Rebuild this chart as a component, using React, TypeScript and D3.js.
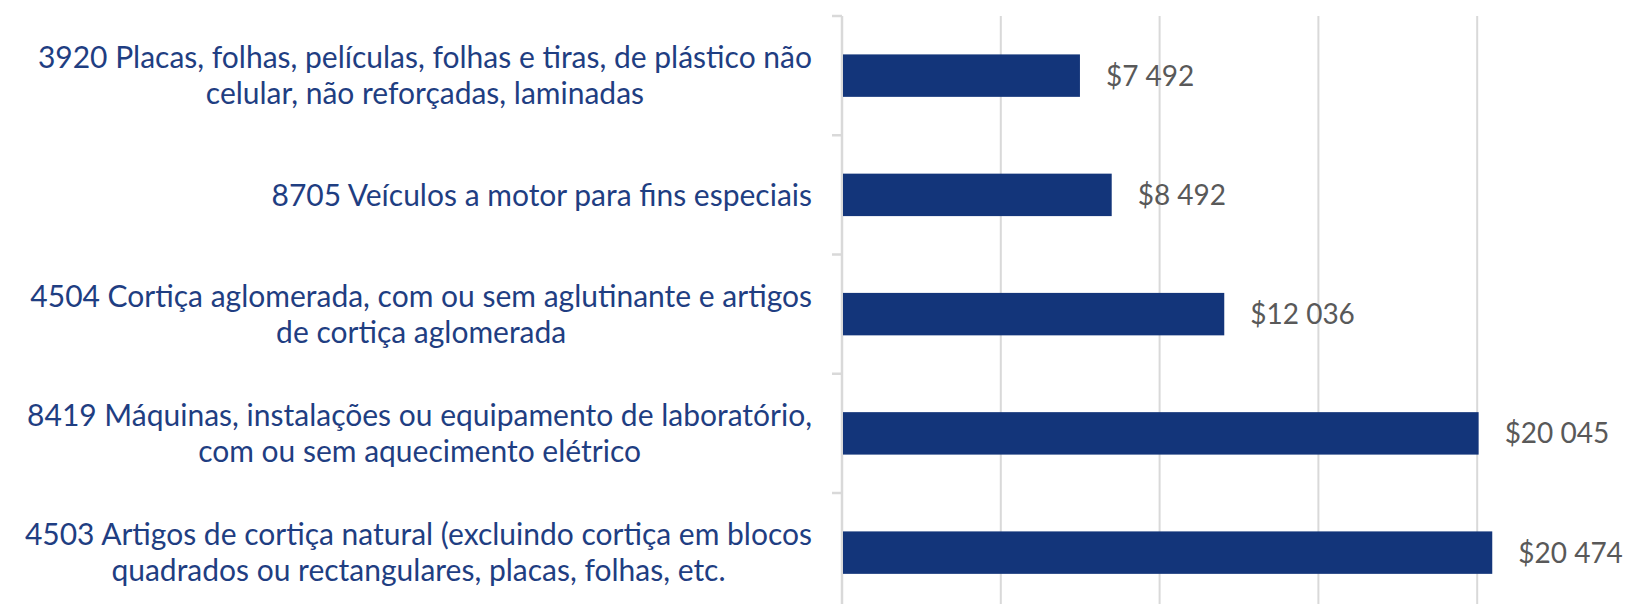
import React, { useEffect, useRef } from "react";
import * as d3 from "d3";

const categories: string[][] = [
  ["3920 Placas, folhas, películas, folhas e tiras, de plástico não", "celular, não reforçadas, laminadas"],
  ["8705 Veículos a motor para fins especiais"],
  ["4504 Cortiça aglomerada, com ou sem aglutinante e artigos", "de cortiça aglomerada"],
  ["8419 Máquinas, instalações ou equipamento de laboratório,", "com ou sem aquecimento elétrico"],
  ["4503 Artigos de cortiça natural (excluindo cortiça em blocos", "quadrados ou rectangulares, placas, folhas, etc."],
];
const values: number[] = [7492, 8492, 12036, 20045, 20474];
const xTicks: number[] = [0, 5000, 10000, 15000, 20000, 25000];

const W = 1630;
const H = 604;

export default function App() {
  const ref = useRef<SVGSVGElement | null>(null);

  useEffect(() => {
    document.body.style.margin = "0";
    const svg = d3.select(ref.current);
    svg.selectAll("*").remove();

    const x = d3.scaleLinear().domain([0, 25000]).range([842, 1636]);
    const ids = categories.map((_, i) => String(i));
    const y = d3
      .scaleBand<string>()
      .domain(ids)
      .range([16, 612.25])
      .paddingInner(0.644)
      .paddingOuter(0.322);
    const step = y.step();

    const locale = d3.formatLocale({
      decimal: ",",
      thousands: "\u00a0",
      grouping: [3],
      currency: ["$", ""],
    });
    const fmt = locale.format("$,d");

    svg
      .append("g")
      .selectAll("line")
      .data(xTicks.filter((t) => t > 0))
      .join("line")
      .attr("x1", (d) => x(d))
      .attr("x2", (d) => x(d))
      .attr("y1", 16)
      .attr("y2", 612)
      .attr("stroke", "#d9d9d9")
      .attr("stroke-width", 2);

    svg
      .append("line")
      .attr("x1", x(0))
      .attr("x2", x(0))
      .attr("y1", 16)
      .attr("y2", 612)
      .attr("stroke", "#d9d9d9")
      .attr("stroke-width", 2.5);

    const bounds = d3.range(categories.length + 1).map((i) => 16 + i * step);
    svg
      .append("g")
      .selectAll("line")
      .data(bounds)
      .join("line")
      .attr("x1", x(0) - 10)
      .attr("x2", x(0))
      .attr("y1", (d) => d)
      .attr("y2", (d) => d)
      .attr("stroke", "#d9d9d9")
      .attr("stroke-width", 2.5);

    svg
      .append("g")
      .selectAll("rect")
      .data(values)
      .join("rect")
      .attr("x", x(0) + 1)
      .attr("y", (_, i) => y(String(i)) as number)
      .attr("width", (d) => x(d) - x(0) - 1)
      .attr("height", y.bandwidth())
      .attr("fill", "#13357a");

    svg
      .append("g")
      .selectAll("text")
      .data(values)
      .join("text")
      .attr("x", (d) => x(d) + 26)
      .attr("y", (_, i) => (y(String(i)) as number) + y.bandwidth() / 2)
      .attr("dy", "0.36em")
      .attr("font-family", "Lato, 'Open Sans', sans-serif")
      .attr("font-size", 28)
      .attr("fill", "#595959")
      .text((d) => fmt(d));

    const labelRight = 812;
    const lineH = 36;
    categories.forEach((lines, i) => {
      const cy = (y(String(i)) as number) + y.bandwidth() / 2;
      const g = svg.append("g");
      const texts = g
        .selectAll("text")
        .data(lines)
        .join("text")
        .attr("font-family", "Lato, 'Open Sans', sans-serif")
        .attr("font-size", 30)
        .attr("fill", "#1f3e82")
        .attr("text-anchor", "middle")
        .attr("y", (_, j) => cy + (j - (lines.length - 1) / 2) * lineH)
        .attr("dy", "0.36em")
        .text((d) => d);
      let maxW = 0;
      texts.each(function () {
        const w = (this as SVGTextElement).getComputedTextLength();
        if (w > maxW) maxW = w;
      });
      texts.attr("x", labelRight - maxW / 2);
    });
  }, []);

  return (
    <svg
      ref={ref}
      width={W}
      height={H}
      style={{ display: "block", background: "#ffffff" }}
    />
  );
}
